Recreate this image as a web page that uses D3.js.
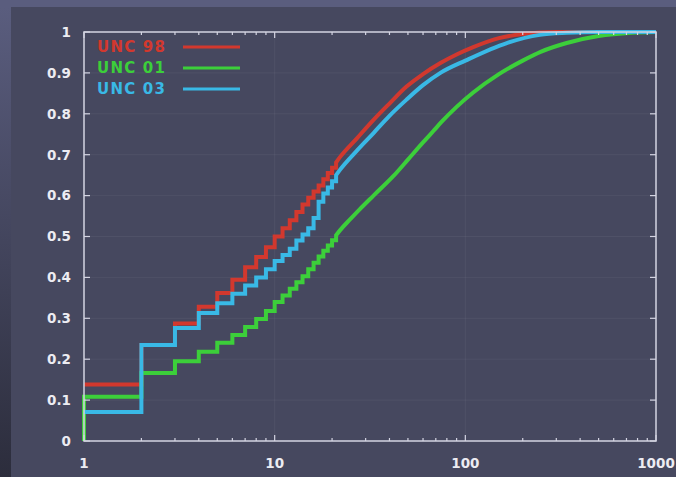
<!DOCTYPE html>
<html>
<head>
<meta charset="utf-8">
<script src="https://cdn.jsdelivr.net/npm/d3@7"></script>
<style>
  html, body { margin: 0; padding: 0; background: #5a5d7e; }
  svg { display: block; }
</style>
</head>
<body>
<svg id="chart" width="676" height="477"></svg>
<script>
// Series names and colours
const seriesNames = ["UNC 98", "UNC 01", "UNC 03"];
const seriesColors = ["#d2382e", "#3ccf3a", "#39b9e6"];

// Integer-valued part of each cumulative distribution (x = 1..20)
const stepX = [1, 2, 3, 4, 5, 6, 7, 8, 9, 10, 11, 12, 13, 14, 15, 16, 17, 18, 19, 20];
const unc98Steps = [0.138, 0.235, 0.287, 0.328, 0.362, 0.394, 0.425, 0.450, 0.474, 0.500, 0.520, 0.540, 0.560, 0.578, 0.595, 0.610, 0.625, 0.640, 0.655, 0.668];
const unc01Steps = [0.108, 0.166, 0.195, 0.218, 0.240, 0.259, 0.279, 0.298, 0.318, 0.340, 0.356, 0.372, 0.388, 0.403, 0.420, 0.436, 0.451, 0.465, 0.478, 0.491];
const unc03Steps = [0.071, 0.235, 0.276, 0.313, 0.337, 0.360, 0.380, 0.400, 0.420, 0.440, 0.455, 0.470, 0.490, 0.505, 0.520, 0.545, 0.585, 0.605, 0.620, 0.635];

// Upper part of each distribution (x > 20)
const unc98TailX = [21, 22, 27, 33, 40, 49, 60, 74, 90, 110, 150, 200, 300, 1000];
const unc98TailY = [0.681, 0.694, 0.740, 0.785, 0.825, 0.866, 0.897, 0.924, 0.945, 0.963, 0.985, 0.995, 1.000, 1.000];
const unc01TailX = [21, 22, 25, 28, 33, 42, 50, 60, 68, 75, 90, 110, 150, 200, 250, 340, 500, 750, 1000];
const unc01TailY = [0.503, 0.515, 0.543, 0.567, 0.600, 0.648, 0.688, 0.730, 0.758, 0.780, 0.817, 0.852, 0.897, 0.930, 0.952, 0.973, 0.990, 0.998, 1.000];
const unc03TailX = [21, 22, 27, 33, 40, 49, 60, 74, 100, 165, 246, 340, 500, 1000];
const unc03TailY = [0.650, 0.663, 0.710, 0.753, 0.795, 0.834, 0.870, 0.900, 0.930, 0.973, 0.993, 0.998, 1.000, 1.000];

// Axis ticks
const yTicks = [0, 0.1, 0.2, 0.3, 0.4, 0.5, 0.6, 0.7, 0.8, 0.9, 1];
const yTickLabels = ["0", "0.1", "0.2", "0.3", "0.4", "0.5", "0.6", "0.7", "0.8", "0.9", "1"];
const xTicks = [1, 10, 100, 1000];
const xTickLabels = ["1", "10", "100", "1000"];

const series = [
  { name: seriesNames[0], color: seriesColors[0], steps: unc98Steps, tailX: unc98TailX, tailY: unc98TailY, fromZero: false },
  { name: seriesNames[1], color: seriesColors[1], steps: unc01Steps, tailX: unc01TailX, tailY: unc01TailY, fromZero: true },
  { name: seriesNames[2], color: seriesColors[2], steps: unc03Steps, tailX: unc03TailX, tailY: unc03TailY, fromZero: false }
];

const svg = d3.select("#chart");
const W = 676, H = 477;
const plot = { left: 84, right: 656, top: 32, bottom: 441 };

// Backdrop: lighter frame with a darker inner panel
const defs = svg.append("defs");
const grad = defs.append("linearGradient").attr("id", "edge").attr("x1", 0).attr("y1", 0).attr("x2", 0).attr("y2", 1);
grad.append("stop").attr("offset", "0%").attr("stop-color", "#5a5d7e");
grad.append("stop").attr("offset", "100%").attr("stop-color", "#2c2d3c");
svg.append("rect").attr("width", W).attr("height", H).attr("fill", "#5a5d7e");
svg.append("rect").attr("x", 0).attr("y", 7).attr("width", 11).attr("height", H - 7).attr("fill", "url(#edge)");
svg.append("rect").attr("x", 11).attr("y", 7).attr("width", W - 11).attr("height", H - 7).attr("fill", "#46485f");

const x = d3.scaleLog().domain([1, 1000]).range([plot.left, plot.right]);
const y = d3.scaleLinear().domain([0, 1]).range([plot.bottom, plot.top]);

// Faint grid
const grid = svg.append("g").attr("stroke", "#ffffff").attr("stroke-opacity", 0.05).attr("stroke-width", 1);
yTicks.slice(1, -1).forEach(v => grid.append("line")
  .attr("x1", plot.left).attr("x2", plot.right).attr("y1", y(v)).attr("y2", y(v)));
xTicks.slice(1, -1).forEach(v => grid.append("line")
  .attr("y1", plot.top).attr("y2", plot.bottom).attr("x1", x(v)).attr("x2", x(v)));

// Series lines: integer steps followed by the smooth upper tail
const stepLine = d3.line().x(d => x(d[0])).y(d => y(d[1])).curve(d3.curveStepAfter);
const tailLine = d3.line().x(d => x(d[0])).y(d => y(d[1])).curve(d3.curveMonotoneX);

const lines = svg.append("g").attr("fill", "none").attr("stroke-width", 4).attr("stroke-linejoin", "miter");
series.forEach(s => {
  let pts = stepX.map((v, i) => [v, s.steps[i]]);
  if (s.fromZero) pts = [[1, 0]].concat(pts);
  pts.push([s.tailX[0], s.tailY[0]]);
  const tail = s.tailX.map((v, i) => [v, s.tailY[i]]);
  const d = stepLine(pts) + tailLine(tail).replace(/^M/, "L");
  lines.append("path").attr("d", d).attr("stroke", s.color);
});

// Axes frame and ticks
const axisColor = "#d4d4e2";
const frame = svg.append("g").attr("stroke", axisColor).attr("stroke-width", 1.5).attr("fill", "none");
frame.append("rect").attr("x", plot.left).attr("y", plot.top)
  .attr("width", plot.right - plot.left).attr("height", plot.bottom - plot.top);

const ticks = svg.append("g").attr("stroke", axisColor).attr("stroke-width", 1.2);
yTicks.forEach(v => {
  ticks.append("line").attr("x1", plot.left).attr("x2", plot.left + 6).attr("y1", y(v)).attr("y2", y(v));
  ticks.append("line").attr("x1", plot.right).attr("x2", plot.right - 6).attr("y1", y(v)).attr("y2", y(v));
});
const minor = [];
[1, 10, 100].forEach(dec => { for (let k = 2; k <= 9; k++) minor.push(dec * k); });
minor.forEach(v => {
  ticks.append("line").attr("x1", x(v)).attr("x2", x(v)).attr("y1", plot.bottom).attr("y2", plot.bottom - 3);
  ticks.append("line").attr("x1", x(v)).attr("x2", x(v)).attr("y1", plot.top).attr("y2", plot.top + 3);
});
xTicks.forEach(v => {
  ticks.append("line").attr("x1", x(v)).attr("x2", x(v)).attr("y1", plot.bottom).attr("y2", plot.bottom - 6);
  ticks.append("line").attr("x1", x(v)).attr("x2", x(v)).attr("y1", plot.top).attr("y2", plot.top + 6);
});

// Tick labels
const labelFont = "'DejaVu Sans', Verdana, sans-serif";
const labels = svg.append("g").attr("fill", "#ececf2").attr("font-family", labelFont)
  .attr("font-weight", "bold").attr("font-size", 13.5);
yTicks.forEach((v, i) => labels.append("text")
  .attr("x", 71).attr("y", y(v)).attr("dy", "0.36em").attr("text-anchor", "end").text(yTickLabels[i]));
xTicks.forEach((v, i) => labels.append("text")
  .attr("x", x(v)).attr("y", 463).attr("dy", "0.36em").attr("text-anchor", "middle").text(xTickLabels[i]));

// Legend
const legend = svg.append("g").attr("font-family", labelFont).attr("font-weight", "bold")
  .attr("font-size", 15).attr("letter-spacing", 1.2);
series.forEach((s, i) => {
  const ly = 47 + i * 21;
  legend.append("text").attr("x", 97).attr("y", ly).attr("dy", "0.36em").attr("fill", s.color).text(s.name);
  legend.append("line").attr("x1", 183).attr("x2", 240).attr("y1", ly).attr("y2", ly)
    .attr("stroke", s.color).attr("stroke-width", 3);
});
</script>
</body>
</html>
